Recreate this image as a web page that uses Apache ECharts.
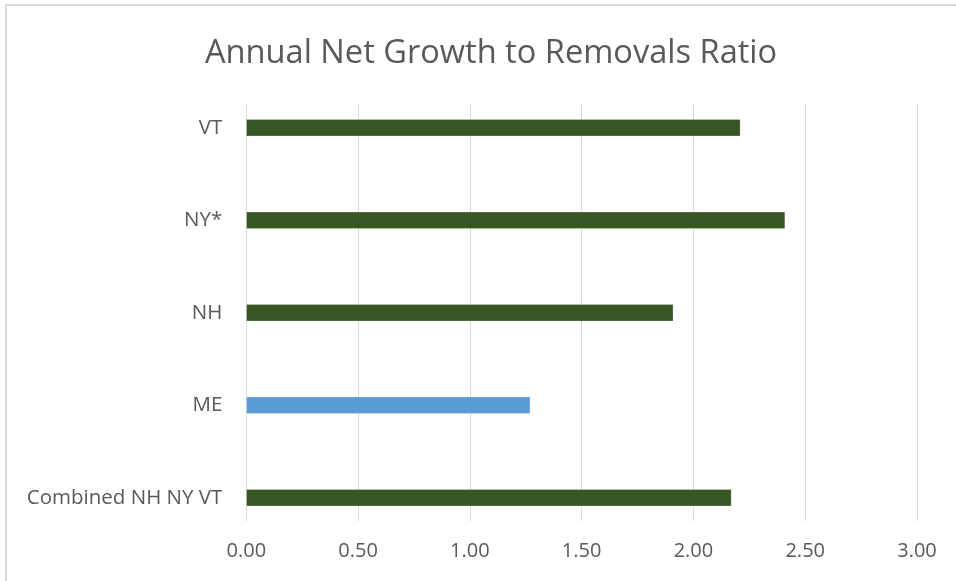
<!DOCTYPE html>
<html><head><meta charset="utf-8">
<script src="https://cdn.jsdelivr.net/npm/echarts@6/dist/echarts.min.js"></script>
<style>html,body{margin:0;padding:0;background:#fff}#c{width:956px;height:581px}</style>
</head><body><div id="c"></div>
<script>
const categories = ['Combined NH NY VT', 'ME', 'NH', 'NY*', 'VT'];
const ratios = [2.17, 1.27, 1.91, 2.41, 2.21];
const barColors = ['#375623', '#5B9BD5', '#375623', '#375623', '#375623'];
const xTicks = [0, 0.5, 1, 1.5, 2, 2.5, 3];

const chart = echarts.init(document.getElementById('c'), null, {renderer: 'canvas'});
const font = 'Open Sans';
chart.setOption({
  animation: false,
  title: {
    text: 'Annual Net Growth to Removals Ratio',
    left: 200, top: 32,
    textStyle: {fontFamily: font, fontSize: 32.6, fontWeight: 'normal', color: '#595959'}
  },
  graphic: [{
    type: 'rect', shape: {x: 6, y: 5, width: 980, height: 600},
    style: {fill: 'none', stroke: '#d9d9d9', lineWidth: 2}, silent: true, z: -1
  }],
  grid: [
    {left: 246.3, right: 39, top: 81.5, bottom: 581 - 544, containLabel: false},
    {left: 246.3, right: 39, top: 104, bottom: 60, containLabel: false}
  ],
  xAxis: [
    {gridIndex: 0, type: 'value', min: 0, max: 3, interval: 0.5, show: false},
    {gridIndex: 1, type: 'value', min: 0, max: 3, interval: 0.5,
     axisLine: {show: false}, axisTick: {show: false},
     splitLine: {show: true, lineStyle: {color: '#d9d9d9', width: 1}},
     axisLabel: {margin: 20, color: '#595959', fontFamily: font, fontSize: 20,
       formatter: v => v.toFixed(2)}}
  ],
  yAxis: [
    {gridIndex: 0, type: 'category', data: categories,
     axisLine: {show: false}, axisTick: {show: false},
     axisLabel: {margin: 24, color: '#595959', fontFamily: font, fontSize: 20.5}},
    {gridIndex: 1, type: 'value', show: false}
  ],
  series: [{
    type: 'bar', xAxisIndex: 0, yAxisIndex: 0,
    barWidth: 17,
    data: ratios.map((v, i) => ({value: v, itemStyle: {color: barColors[i]}})),
    itemStyle: {borderColor: 'rgba(255,255,255,0.5)', borderWidth: 0.5}
  }]
});
</script></body></html>
